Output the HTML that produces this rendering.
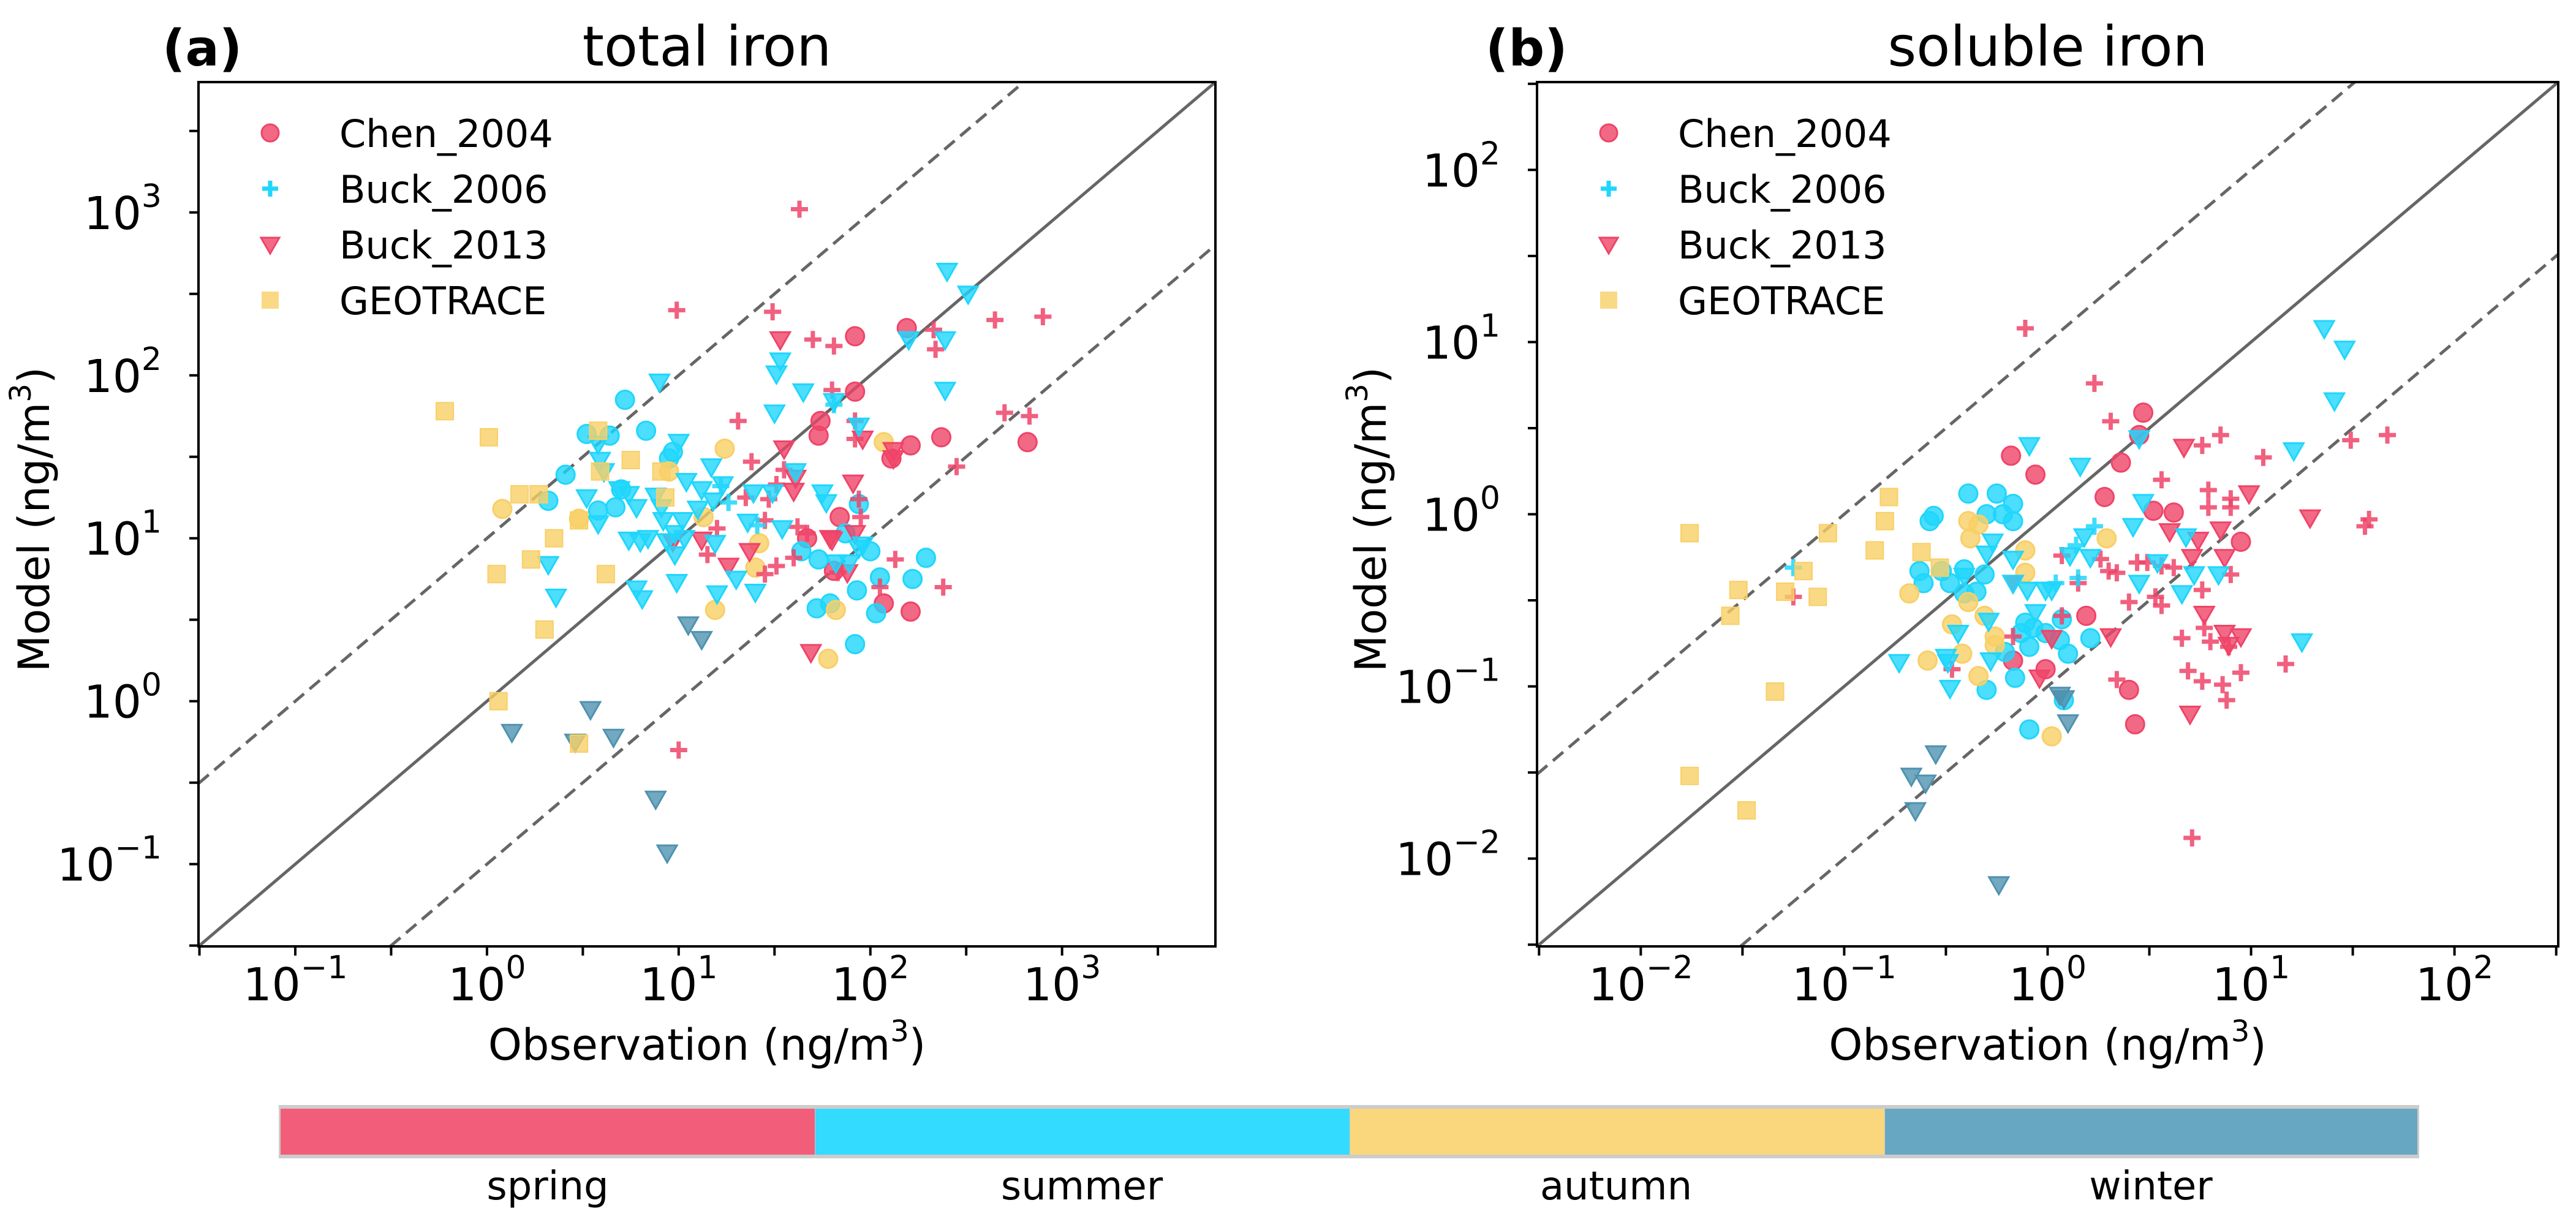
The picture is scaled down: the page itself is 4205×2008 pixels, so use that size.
<!DOCTYPE html>
<html><head><meta charset="utf-8"><style>
html,body{margin:0;padding:0;background:#fff}
svg{display:block}
text{font-family:"DejaVu Sans","Liberation Sans",sans-serif;fill:#000}
</style></head>
<body>
<svg id="fig" width="4205" height="2008" viewBox="0 0 4205 2008" xmlns="http://www.w3.org/2000/svg">
<rect x="0" y="0" width="4205" height="2008" fill="#fff"/>
<g id="panelA"></g>
<g id="panelB"></g>
<g id="cbar">
  <rect x="455" y="1804" width="3494" height="87" fill="#cccccc"/>
  <rect x="458" y="1810" width="872" height="75" fill="#f25e7a"/>
  <rect x="1331" y="1810" width="872" height="75" fill="#33dbff"/>
  <rect x="2204" y="1810" width="872" height="75" fill="#fad77c"/>
  <rect x="3077" y="1810" width="869" height="75" fill="#68a7c1"/>
  <text x="894" y="1958" font-size="64" text-anchor="middle" fill="#222">spring</text>
  <text x="1766" y="1958" font-size="64" text-anchor="middle" fill="#222">summer</text>
  <text x="2638" y="1958" font-size="64" text-anchor="middle" fill="#222">autumn</text>
  <text x="3511" y="1958" font-size="64" text-anchor="middle" fill="#222">winter</text>
</g>
</svg>
<script>
// ---- data (log10 of concentration, ng/m3): [observation, model] ----
const aChenSpring=[[1.92,2.24],[2.19,2.29],[1.92,1.90],[1.74,1.72],[1.73,1.63],[2.37,1.62],[2.21,1.57],[2.82,1.59],[2.11,1.49],[1.84,1.13],[1.67,1.00],[1.81,0.80],[2.07,0.60],[2.21,0.55]];
const aChenSummer=[[0.72,1.85],[0.83,1.66],[0.52,1.64],[0.64,1.63],[0.97,1.53],[0.95,1.49],[0.41,1.39],[0.32,1.23],[0.58,1.17],[0.67,1.19],[0.70,1.30],[1.94,1.21],[1.87,1.03],[1.64,0.92],[1.73,0.87],[2.00,0.92],[1.93,0.68],[2.05,0.76],[2.29,0.88],[2.22,0.75],[2.03,0.54],[1.72,0.57],[1.79,0.60],[1.92,0.35]];
const aChenAutumn=[[1.24,1.55],[2.07,1.59],[0.08,1.18],[0.48,1.12],[0.95,1.41],[1.19,0.56],[1.78,0.26],[1.82,0.56],[1.42,0.97],[1.40,0.82],[1.13,1.13]];
const aB06Spring=[[1.63,3.02],[0.99,2.40],[1.49,2.39],[1.70,2.22],[1.81,2.18],[2.65,2.34],[2.90,2.36],[2.33,2.28],[2.34,2.16],[2.70,1.77],[2.83,1.75],[1.31,1.72],[1.80,1.91],[1.92,1.61],[2.45,1.44],[1.92,1.72],[1.38,1.47],[1.55,1.42],[1.51,1.33],[1.47,1.24],[1.35,1.25],[1.45,1.11],[1.62,1.07],[1.67,1.03],[2.13,0.87],[2.38,0.70],[2.05,0.70],[1.83,0.79],[1.60,0.88],[1.51,0.83],[1.45,0.78],[1.15,0.90],[1.20,1.06],[1.00,-0.30],[1.95,1.13],[1.94,1.24]];
const aB06Summer=[[1.26,1.22],[1.81,1.82],[1.41,1.08],[1.22,1.32]];
const aB13Spring=[[1.53,2.22],[1.55,1.55],[2.12,1.54],[2.12,1.49],[1.96,1.61],[1.91,1.34],[1.92,1.03],[1.79,1.00],[1.88,0.79],[1.69,0.30],[1.37,0.92],[1.26,0.83],[1.12,0.99],[1.61,1.37],[1.60,1.29],[1.80,0.99],[0.97,0.98]];
const aB13Summer=[[2.40,2.64],[2.51,2.50],[0.90,1.96],[2.20,2.22],[2.39,2.22],[1.53,2.09],[1.51,2.01],[1.65,1.90],[2.39,1.91],[1.81,1.84],[1.50,1.77],[1.94,1.69],[1.00,1.59],[1.17,1.44],[1.04,1.35],[1.12,1.30],[1.23,1.33],[1.18,1.23],[1.10,1.18],[1.39,1.28],[1.49,1.28],[1.61,1.41],[1.75,1.28],[1.77,1.22],[0.52,1.25],[0.58,1.09],[0.69,1.30],[0.74,1.27],[0.78,1.19],[0.88,1.26],[0.91,1.19],[1.02,1.11],[0.98,1.03],[0.74,0.99],[0.80,0.98],[0.84,1.00],[0.94,0.98],[1.03,1.00],[1.19,0.97],[1.36,1.10],[1.54,1.06],[0.32,0.84],[0.36,0.64],[0.78,0.69],[0.81,0.63],[0.98,0.90],[0.99,0.73],[1.20,0.66],[1.30,0.75],[1.40,0.67],[0.59,1.48],[0.61,1.41],[1.89,0.85],[1.96,0.96],[1.82,0.85],[1.94,0.94],[0.58,1.58],[0.92,1.11]];
const aB13Winter=[[0.13,-0.19],[0.54,-0.05],[0.66,-0.22],[0.46,-0.25],[0.88,-0.60],[0.94,-0.93],[1.05,0.47],[1.12,0.38]];
const aGeoAutumn=[[-0.22,1.78],[0.01,1.62],[0.58,1.66],[0.75,1.48],[0.59,1.41],[0.91,1.41],[0.93,1.25],[0.17,1.27],[0.27,1.27],[0.48,1.11],[0.35,1.00],[0.05,0.78],[0.23,0.87],[0.62,0.78],[0.30,0.44],[0.06,0.00],[0.48,-0.26]];

const bChenSpring=[[-0.18,0.34],[-0.06,0.23],[0.47,0.59],[0.45,0.46],[0.36,0.30],[0.28,0.10],[0.52,0.02],[0.62,0.01],[0.95,-0.16],[0.19,-0.59],[-0.01,-0.90],[-0.17,-0.85],[0.40,-1.02],[0.43,-1.22]];
const bChenSummer=[[-0.39,0.12],[-0.25,0.12],[-0.30,0.00],[-0.22,0.00],[-0.17,0.06],[-0.17,-0.04],[-0.58,-0.04],[-0.56,-0.01],[-0.63,-0.33],[-0.61,-0.40],[-0.52,-0.33],[-0.41,-0.32],[-0.31,-0.35],[-0.48,-0.40],[-0.41,-0.46],[-0.35,-0.45],[-0.11,-0.63],[-0.07,-0.66],[-0.13,-0.69],[-0.09,-0.77],[-0.01,-0.69],[0.07,-0.61],[0.06,-0.73],[0.10,-0.81],[0.21,-0.72],[-0.16,-0.95],[-0.30,-1.02],[-0.09,-1.25],[0.08,-1.08],[-0.21,-0.80]];
const bChenAutumn=[[-0.39,-0.04],[-0.34,-0.06],[-0.38,-0.14],[-0.11,-0.21],[0.29,-0.14],[-0.11,-0.34],[-0.68,-0.46],[-0.47,-0.64],[-0.31,-0.59],[-0.39,-0.51],[-0.42,-0.81],[-0.59,-0.85],[-0.34,-0.94],[-0.26,-0.76],[-0.26,-0.71],[0.02,-1.29]];
const bB06Spring=[[-0.11,1.08],[0.23,0.76],[0.31,0.54],[0.76,0.40],[0.85,0.46],[1.06,0.33],[1.49,0.43],[1.67,0.46],[0.56,0.20],[0.79,0.14],[0.79,0.04],[0.90,0.09],[0.90,0.04],[0.07,-0.24],[0.15,-0.40],[0.26,-0.26],[0.30,-0.33],[0.34,-0.34],[0.44,-0.28],[0.49,-0.28],[0.56,-0.30],[0.62,-0.31],[0.40,-0.51],[0.53,-0.48],[0.56,-0.53],[0.76,-0.44],[0.90,-0.35],[0.66,-0.72],[0.77,-0.66],[0.80,-0.74],[0.89,-0.77],[0.95,-0.92],[0.69,-0.91],[0.76,-0.97],[0.86,-0.99],[0.88,-1.08],[1.17,-0.87],[1.56,-0.07],[1.58,-0.03],[0.71,-1.88],[0.34,-0.96],[-0.47,-0.90],[-0.17,-0.71],[0.07,-0.59],[-1.25,-0.48]];
const bB06Summer=[[-1.25,-0.31],[0.14,-0.18],[0.23,-0.07],[0.15,-0.37],[0.04,-0.40]];
const bB13Spring=[[0.67,0.39],[0.85,-0.09],[0.99,0.12],[1.29,-0.02],[0.60,-0.10],[0.74,-0.15],[0.71,-0.25],[0.87,-0.25],[0.77,-0.58],[0.87,-0.69],[0.95,-0.71],[0.89,-0.76],[0.31,-0.71],[-0.04,-0.95],[0.02,-0.72],[-0.17,-0.40],[0.70,-1.16]];
const bB13Summer=[[1.36,1.08],[1.46,0.96],[1.41,0.66],[1.21,0.37],[0.16,0.28],[-0.09,0.40],[0.45,0.44],[0.47,0.07],[0.42,-0.07],[0.68,-0.13],[0.54,-0.28],[0.72,-0.35],[0.66,-0.46],[0.84,-0.35],[0.45,-0.40],[0.18,-0.13],[0.11,-0.24],[-0.27,-0.16],[-0.17,-0.26],[-0.30,-0.23],[-0.29,-0.62],[-0.44,-0.69],[-0.73,-0.86],[-0.50,-0.83],[-0.49,-0.86],[-0.48,-1.01],[-0.28,-0.85],[-0.17,-0.40],[-0.10,-0.44],[-0.01,-0.44],[0.02,-0.44],[-0.06,-0.57],[1.25,-0.74],[0.21,-0.25],[-0.41,-0.36]];
const bB13Winter=[[-0.24,-2.15],[-0.55,-1.39],[-0.67,-1.52],[-0.60,-1.56],[-0.65,-1.72],[0.06,-1.05],[0.08,-1.07],[0.10,-1.21]];
const bGeoAutumn=[[-1.76,-0.11],[-1.76,-1.52],[-1.48,-1.72],[-1.34,-1.03],[-1.52,-0.44],[-1.56,-0.59],[-1.29,-0.45],[-1.20,-0.33],[-1.13,-0.48],[-1.08,-0.11],[-0.85,-0.21],[-0.80,-0.04],[-0.78,0.10],[-0.62,-0.22],[-0.53,-0.31]];

const aTickExps=[-1,0,1,2,3];
const bTickExps=[-2,-1,0,1,2];
const legendNames=["Chen_2004","Buck_2006","Buck_2013","GEOTRACE"];

const NS="http://www.w3.org/2000/svg";
const FILL={spring:"#ef4468",summer:"#1fd6fc",autumn:"#f9cf66",winter:"#4f92b0"};
function mk(tag,attrs,parent){const e=document.createElementNS(NS,tag);for(const k in attrs)e.setAttribute(k,attrs[k]);parent.appendChild(e);return e;}

function buildPanel(g,P){
  const xs=l=>P.x0+(l-P.lo)/(P.hi-P.lo)*(P.x1-P.x0);
  const ys=l=>P.y1-(l-P.lo)/(P.hi-P.lo)*(P.y1-P.y0);
  const cid=P.id+"clip";
  const defs=mk("defs",{},g);
  const cp=mk("clipPath",{id:cid},defs);
  mk("rect",{x:P.x0,y:P.y0,width:P.x1-P.x0,height:P.y1-P.y0},cp);
  const lines=mk("g",{"clip-path":"url(#"+cid+")"},g);
  const d1=mk("line",{x1:xs(P.lo),y1:ys(P.lo),x2:xs(P.hi),y2:ys(P.hi),stroke:"#666","stroke-width":5},lines);
  
  
  const up=mk("line",{x1:xs(P.lo),y1:ys(P.lo+1),x2:xs(P.hi-1),y2:ys(P.hi),stroke:"#666","stroke-width":5,"stroke-dasharray":"22 12"},lines);
  
  
  const dn=mk("line",{x1:xs(P.lo+1),y1:ys(P.lo),x2:xs(P.hi),y2:ys(P.hi-1),stroke:"#666","stroke-width":5,"stroke-dasharray":"22 12"},lines);
  
  

  const mg=mk("g",{},g);
  function draw(data,shape,season,name){
    const c=FILL[season];
    data.forEach(p=>{
      const cx=xs(p[0]),cy=ys(p[1]);let e;
      if(shape==="o") e=mk("circle",{cx:cx,cy:cy,r:15,fill:c,"fill-opacity":0.8,stroke:c,"stroke-width":3},mg);
      else if(shape==="v") e=mk("path",{d:`M${cx-16},${cy-12}L${cx+16},${cy-12}L${cx},${cy+16}Z`,fill:c,"fill-opacity":0.8,stroke:c,"stroke-width":3},mg);
      else if(shape==="s") e=mk("rect",{x:cx-14,y:cy-14,width:28,height:28,fill:c,"fill-opacity":0.8,stroke:c,"stroke-width":2},mg);
      else e=mk("path",{d:`M${cx-14},${cy}H${cx+14}M${cx},${cy-14}V${cy+14}`,stroke:c,"stroke-opacity":0.85,"stroke-width":7,fill:"none"},mg);
      
      
    });
  }
  const S=P.series;
  draw(S.chenSpring,"o","spring","chen-2004-point");
  draw(S.chenSummer,"o","summer","chen-2004-point");
  draw(S.chenAutumn,"o","autumn","chen-2004-point");
  draw(S.b06Spring,"+","spring","buck-2006-point");
  draw(S.b06Summer,"+","summer","buck-2006-point");
  draw(S.b13Spring,"v","spring","buck-2013-point");
  draw(S.b13Summer,"v","summer","buck-2013-point");
  draw(S.b13Winter,"v","winter","buck-2013-point");
  draw(S.geoAutumn,"s","autumn","geotrace-point");

  const fr=mk("rect",{x:P.x0,y:P.y0,width:P.x1-P.x0,height:P.y1-P.y0,fill:"none",stroke:"#000","stroke-width":4},g);
  
  

  for(let l=Math.ceil(P.lo*2)/2;l<=P.hi;l+=0.5){
    const tx=mk("line",{x1:xs(l),y1:P.y1,x2:xs(l),y2:P.y1+15,stroke:"#000","stroke-width":4},g);
    
    
    const ty=mk("line",{x1:P.x0,y1:ys(l),x2:P.x0-15,y2:ys(l),stroke:"#000","stroke-width":4},g);
    
    
  }
  P.ticks.forEach(e=>{
    const sup=(e<0?"\u2212"+(-e):""+e);
    const t=mk("text",{x:xs(e),y:P.y1+88,"font-size":74,"text-anchor":"middle"},g);
    
    
    t.appendChild(document.createTextNode("10"));
    const ts=mk("tspan",{"font-size":52,dy:-36},t);ts.textContent=sup;
    const u=mk("text",{x:P.x0-60,y:ys(e)+27,"font-size":74,"text-anchor":"end"},g);
    
    
    u.appendChild(document.createTextNode("10"));
    const us=mk("tspan",{"font-size":52,dy:-36},u);us.textContent=sup;
  });

  const xl=mk("text",{x:(P.x0+P.x1)/2,y:1730,"font-size":70,"text-anchor":"middle"},g);
  
  
  xl.appendChild(document.createTextNode("Observation (ng/m"));
  const x3=mk("tspan",{"font-size":48,dy:-30},xl);x3.textContent="3";
  const x4=mk("tspan",{dy:30},xl);x4.textContent=")";
  const yl=mk("text",{x:0,y:0,"font-size":70,"text-anchor":"middle",transform:`translate(${P.ylx},848) rotate(-90)`},g);
  
  
  yl.appendChild(document.createTextNode("Model (ng/m"));
  const y3=mk("tspan",{"font-size":48,dy:-30},yl);y3.textContent="3";
  const y4=mk("tspan",{dy:30},yl);y4.textContent=")";

  const ti=mk("text",{x:(P.x0+P.x1)/2,y:107,"font-size":90,"text-anchor":"middle"},g);
  ti.textContent=P.title;
  
  
  const le=mk("text",{x:P.letterX,y:107,"font-size":82,"font-weight":"bold",fill:"#222"},g);
  le.textContent=P.letter;
  
  

  const shapes=[["o","spring"],["+","summer"],["v","spring"],["s","autumn"]];
  legendNames.forEach((n,i)=>{
    const cy=217+i*91, cx=P.legX;
    const lg=mk("g",{},g);
    
    
    const c=FILL[shapes[i][1]];
    const sh=shapes[i][0];
    if(sh==="o") mk("circle",{cx:cx,cy:cy,r:14,fill:c,"fill-opacity":0.8,stroke:c,"stroke-width":3},lg);
    else if(sh==="+") mk("path",{d:`M${cx-13},${cy}H${cx+13}M${cx},${cy-13}V${cy+13}`,stroke:c,"stroke-width":7,fill:"none"},lg);
    else if(sh==="v") mk("path",{d:`M${cx-15},${cy-11}L${cx+15},${cy-11}L${cx},${cy+15}Z`,fill:c,"fill-opacity":0.8,stroke:c,"stroke-width":3},lg);
    else mk("rect",{x:cx-14,y:cy-14,width:28,height:28,fill:c,"fill-opacity":0.8},lg);
    const t=mk("text",{x:cx+113,y:cy+23,"font-size":62},lg);
    t.textContent=n;
  });
}

buildPanel(document.getElementById("panelA"),{id:"pa",x0:324,x1:1984,y0:134,y1:1545,lo:-1.505,hi:3.80,
  ticks:aTickExps,title:"total iron",letter:"(a)",letterX:265,legX:441,ylx:80,
  series:{chenSpring:aChenSpring,chenSummer:aChenSummer,chenAutumn:aChenAutumn,b06Spring:aB06Spring,b06Summer:aB06Summer,
    b13Spring:aB13Spring,b13Summer:aB13Summer,b13Winter:aB13Winter,geoAutumn:aGeoAutumn}});
buildPanel(document.getElementById("panelB"),{id:"pb",x0:2509,x1:4176,y0:134,y1:1545,lo:-2.51,hi:2.51,
  ticks:bTickExps,title:"soluble iron",letter:"(b)",letterX:2425,legX:2626,ylx:2262,
  series:{chenSpring:bChenSpring,chenSummer:bChenSummer,chenAutumn:bChenAutumn,b06Spring:bB06Spring,b06Summer:bB06Summer,
    b13Spring:bB13Spring,b13Summer:bB13Summer,b13Winter:bB13Winter,geoAutumn:bGeoAutumn}});
</script>
</body></html>
